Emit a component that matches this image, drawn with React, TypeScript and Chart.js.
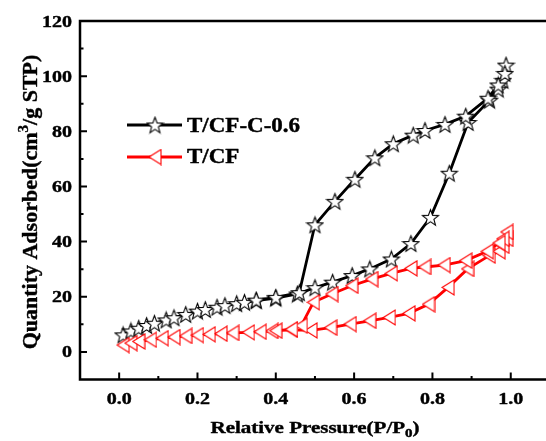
import React, { useEffect, useRef } from "react";
import { Chart, registerables } from "chart.js";
Chart.register(...registerables);

// ---- Data ----
const seriesNames = ["T/CF-C-0.6", "T/CF"];

// T/CF-C-0.6: adsorption branch followed by desorption branch
const tcfcP = [
  0.01, 0.03, 0.05, 0.07, 0.09, 0.12, 0.14, 0.17, 0.2, 0.22, 0.25, 0.27, 0.3, 0.32, 0.35, 0.4, 0.455,
  0.5, 0.545, 0.595, 0.64, 0.695, 0.745, 0.795, 0.843, 0.891, 0.946, 0.968, 0.98, 0.988,
  0.985, 0.968, 0.942, 0.885, 0.832, 0.781, 0.751, 0.7, 0.653, 0.602, 0.551, 0.5, 0.46, 0.4, 0.35,
];
const tcfcV = [
  6.2, 7.6, 8.6, 9.6, 10.4, 11.6, 12.4, 13.6, 14.8, 15.4, 16.2, 16.8, 17.5, 18.0, 18.6, 19.5, 21.0,
  23.3, 25.3, 27.7, 30.1, 33.7, 39.3, 48.8, 64.8, 83.2, 91.3, 95.3, 98.5, 104.0,
  101.0, 96.8, 92.0, 85.5, 82.5, 80.3, 78.6, 75.5, 70.4, 62.6, 54.6, 46.1, 21.5, 19.8, 18.8,
];

// T/CF: adsorption branch followed by desorption branch
const tcfP = [
  0.01, 0.03, 0.05, 0.08, 0.11, 0.14, 0.17, 0.2, 0.23, 0.26, 0.29, 0.33, 0.39, 0.44, 0.49, 0.54,
  0.59, 0.64, 0.69, 0.74, 0.79, 0.84, 0.89, 0.945, 0.97, 0.98, 0.99,
  0.99, 0.98, 0.97, 0.94, 0.885, 0.83, 0.78, 0.745, 0.695, 0.645, 0.594, 0.543, 0.496, 0.465, 0.44, 0.4, 0.36,
];
const tcfV = [
  2.5, 3.2, 3.8, 4.4, 5.0, 5.4, 5.8, 6.1, 6.4, 6.6, 6.9, 7.1, 7.6, 8.0, 7.8, 8.8,
  10.1, 11.3, 12.5, 14.0, 17.3, 23.4, 30.1, 34.9, 36.5, 38.5, 41.0,
  43.5, 41.0, 39.5, 36.5, 33.1, 31.5, 30.8, 30.3, 28.5, 26.4, 24.0, 21.0, 18.0, 9.5, 8.2, 7.7, 7.3,
];

const xTicks = [0, 0.2, 0.4, 0.6, 0.8, 1.0];
const xTickLabels = ["0.0", "0.2", "0.4", "0.6", "0.8", "1.0"];
const xMinorTicks = [0.1, 0.3, 0.5, 0.7, 0.9];
const yTicks = [0, 20, 40, 60, 80, 100, 120];
const yTickLabels = ["0", "20", "40", "60", "80", "100", "120"];
const yMinorTicks = [10, 30, 50, 70, 90, 110];

const FONT = '"Liberation Serif", "Times New Roman", serif';
const W = 546;
const H = 441;
const TEXT_STROKE = 0.4;

function makeStar(size: number) {
  const c = document.createElement("canvas");
  c.width = size;
  c.height = size;
  const g = c.getContext("2d")!;
  const R = size / 2 - 1;
  const r = R * 0.42;
  const cx = size / 2;
  const cy = size / 2 + 0.095 * R;
  g.beginPath();
  for (let i = 0; i < 10; i++) {
    const a = -Math.PI / 2 + (i * Math.PI) / 5;
    const rad = i % 2 === 0 ? R : r;
    g.lineTo(cx + rad * Math.cos(a), cy + rad * Math.sin(a));
  }
  g.closePath();
  g.fillStyle = "#ffffff";
  g.fill();
  g.lineWidth = 1.1;
  g.strokeStyle = "#000000";
  g.stroke();
  return c;
}

function makeTriangle(w: number, h: number) {
  const c = document.createElement("canvas");
  c.width = w;
  c.height = h;
  const g = c.getContext("2d")!;
  g.beginPath();
  g.moveTo(1, h / 2);
  g.lineTo(w - 1, 1);
  g.lineTo(w - 1, h - 1);
  g.closePath();
  g.fillStyle = "#ffffff";
  g.fill();
  g.lineWidth = 1.1;
  g.strokeStyle = "#ff0000";
  g.stroke();
  return c;
}

type Seg = { t: string; size: number; dy: number };

function fillStroke(ctx: CanvasRenderingContext2D, t: string) {
  ctx.fillText(t, 0, 0);
  ctx.lineWidth = TEXT_STROKE;
  ctx.strokeStyle = ctx.fillStyle as string;
  ctx.lineJoin = "round";
  ctx.strokeText(t, 0, 0);
}

function drawSegs(ctx: CanvasRenderingContext2D, segs: Seg[], sx: number) {
  let x = 0;
  for (const s of segs) {
    ctx.font = `bold ${s.size}px ${FONT}`;
    ctx.save();
    ctx.translate(x, s.dy);
    ctx.scale(sx, 1);
    fillStroke(ctx, s.t);
    ctx.restore();
    x += ctx.measureText(s.t).width * sx;
  }
  return x;
}

function segsWidth(ctx: CanvasRenderingContext2D, segs: Seg[], sx: number) {
  let x = 0;
  for (const s of segs) {
    ctx.font = `bold ${s.size}px ${FONT}`;
    x += ctx.measureText(s.t).width * sx;
  }
  return x;
}

function textAt(
  ctx: CanvasRenderingContext2D,
  t: string,
  x: number,
  y: number,
  size: number,
  sx: number,
  align: "left" | "center" | "right"
) {
  ctx.save();
  ctx.font = `bold ${size}px ${FONT}`;
  ctx.textAlign = "left";
  ctx.textBaseline = "alphabetic";
  const w = ctx.measureText(t).width * sx;
  const x0 = align === "left" ? x : align === "center" ? x - w / 2 : x - w;
  ctx.translate(x0, y);
  ctx.scale(sx, 1);
  fillStroke(ctx, t);
  ctx.restore();
}

export default function App() {
  const ref = useRef<HTMLCanvasElement | null>(null);

  useEffect(() => {
    if (!ref.current) return;
    document.documentElement.style.overflow = "hidden";
    document.body.style.overflow = "hidden";
    const star = makeStar(19);
    const tri = makeTriangle(14, 17);
    const starLegend = makeStar(19);
    const triLegend = makeTriangle(14, 17);

    const framePlugin = {
      id: "framePlugin",
      afterDraw(chart: any) {
        const ctx: CanvasRenderingContext2D = chart.ctx;
        const { left, right, top, bottom } = chart.chartArea;
        const xs = chart.scales.x;
        const ys = chart.scales.y;
        ctx.save();
        ctx.strokeStyle = "#000";
        ctx.fillStyle = "#000";
        ctx.lineWidth = 2.5;
        ctx.lineCap = "square";
        ctx.beginPath();
        ctx.moveTo(left, top);
        ctx.lineTo(right + 4, top);
        ctx.moveTo(left, top);
        ctx.lineTo(left, bottom);
        ctx.lineTo(right + 4, bottom);
        ctx.stroke();
        ctx.lineCap = "butt";
        ctx.lineWidth = 2;
        ctx.beginPath();
        for (const v of xTicks) {
          const px = xs.getPixelForValue(v);
          ctx.moveTo(px, bottom);
          ctx.lineTo(px, bottom - 7);
        }
        for (const v of xMinorTicks) {
          const px = xs.getPixelForValue(v);
          ctx.moveTo(px, bottom);
          ctx.lineTo(px, bottom - 3.5);
        }
        for (const v of yTicks) {
          const py = ys.getPixelForValue(v);
          ctx.moveTo(left, py);
          ctx.lineTo(left + 7, py);
        }
        for (const v of yMinorTicks) {
          const py = ys.getPixelForValue(v);
          ctx.moveTo(left, py);
          ctx.lineTo(left + 3.5, py);
        }
        ctx.stroke();

        // tick labels
        ctx.fillStyle = "#000";
        xTicks.forEach((v, i) => {
          textAt(ctx, xTickLabels[i], xs.getPixelForValue(v), 403.5, 16, 1.25, "center");
        });
        yTicks.forEach((v, i) => {
          textAt(ctx, yTickLabels[i], 72, ys.getPixelForValue(v) + 5.5, 16, 1.25, "right");
        });

        // x title
        const xt: Seg[] = [
          { t: "Relative Pressure(P/P", size: 17.5, dy: 0 },
          { t: "0", size: 12.5, dy: 4 },
          { t: ")", size: 17.5, dy: 0 },
        ];
        const xw = segsWidth(ctx, xt, 1.2);
        ctx.save();
        ctx.translate(315 - xw / 2, 433);
        drawSegs(ctx, xt, 1.2);
        ctx.restore();

        // y title (rotated)
        const yt: Seg[] = [
          { t: "Quantity Adsorbed(cm", size: 22, dy: 0 },
          { t: "3", size: 15, dy: -9 },
          { t: "/g STP)", size: 22, dy: 0 },
        ];
        const yw = segsWidth(ctx, yt, 1);
        ctx.save();
        ctx.translate(37, 202 + yw / 2);
        ctx.rotate(-Math.PI / 2);
        drawSegs(ctx, yt, 1);
        ctx.restore();

        // legend
        const rows = [
          { y: 125, color: "#000000", img: starLegend, label: seriesNames[0], base: 131.7 },
          { y: 157, color: "#ff0000", img: triLegend, label: seriesNames[1], base: 163.3 },
        ];
        for (const r of rows) {
          ctx.strokeStyle = r.color;
          ctx.lineWidth = 2.8;
          ctx.beginPath();
          ctx.moveTo(127, r.y);
          ctx.lineTo(182, r.y);
          ctx.stroke();
          ctx.drawImage(r.img, 155 - r.img.width / 2, r.y - r.img.height / 2);
          ctx.fillStyle = "#000";
          textAt(ctx, r.label, 187, r.base, 20, 1.15, "left");
        }
        ctx.restore();
      },
    };

    const chart = new Chart(ref.current, {
      type: "scatter",
      data: {
        datasets: [
          {
            label: seriesNames[1],
            data: tcfP.map((p, i) => ({ x: p, y: tcfV[i] })),
            showLine: true,
            borderColor: "#ff0000",
            backgroundColor: "#ffffff",
            borderWidth: 2.8,
            pointStyle: tri as any,
            pointRadius: 8,
            tension: 0,
            order: 0,
          },
          {
            label: seriesNames[0],
            data: tcfcP.map((p, i) => ({ x: p, y: tcfcV[i] })),
            showLine: true,
            borderColor: "#000000",
            backgroundColor: "#ffffff",
            borderWidth: 2.8,
            pointStyle: star as any,
            pointRadius: 9,
            tension: 0,
            order: 1,
          },
        ],
      },
      options: {
        animation: false,
        responsive: false,
        maintainAspectRatio: false,
        devicePixelRatio: 1,
        events: [],
        layout: { autoPadding: false, padding: { left: 80, top: 21, right: 0, bottom: 61.5 } },
        scales: {
          x: { type: "linear", min: -0.1, max: 1.09, display: false },
          y: { type: "linear", min: -10, max: 120, display: false },
        },
        plugins: {
          legend: { display: false },
          tooltip: { enabled: false },
          title: { display: false },
        },
      },
      plugins: [framePlugin],
    });
    return () => chart.destroy();
  }, []);

  return (
    <div style={{ position: "fixed", left: 0, top: 0, width: W, height: H, background: "#fff", overflow: "hidden" }}>
      <canvas ref={ref} width={W} height={H} style={{ display: "block", width: W, height: H }} />
    </div>
  );
}
